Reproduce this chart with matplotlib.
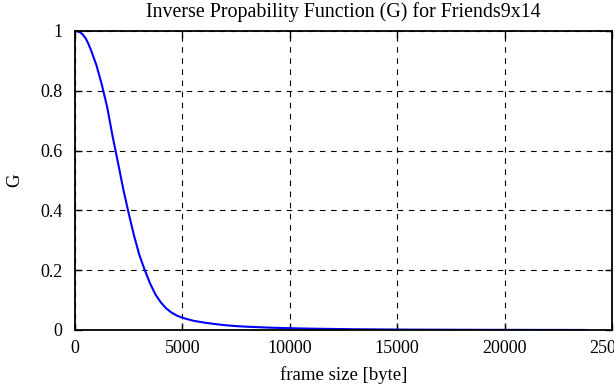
import matplotlib
matplotlib.use('Agg')
import matplotlib.pyplot as plt
from matplotlib.ticker import FormatStrFormatter

# frame size [byte] and G values
frame_size = [0, 125, 250, 375, 500, 625, 750, 1000, 1250, 1500, 1750, 2000, 2250,
              2500, 2750, 3000, 3250, 3500, 3750, 4000, 4250, 4500, 4750,
              5000, 5500, 6000, 6500, 7000, 7500, 8000, 9000, 10000, 11000,
              12000, 13000, 14000, 15000, 16000, 17000, 18000, 19000, 20000,
              21000, 22000, 23000, 23800]
G = [1.000, 0.999, 0.995, 0.987, 0.975, 0.957, 0.935, 0.885, 0.820, 0.745, 0.648,
     0.560, 0.470, 0.390, 0.315, 0.250, 0.200, 0.155, 0.118, 0.092, 0.072, 0.058,
     0.048, 0.041, 0.031, 0.025, 0.020, 0.016, 0.013, 0.011, 0.008, 0.006, 0.0045,
     0.0035, 0.0025, 0.002, 0.0015, 0.0012, 0.001, 0.0008, 0.0006, 0.0005,
     0.0004, 0.0003, 0.0002, 0.0]

x_ticks = [0, 5000, 10000, 15000, 20000, 25000]
y_ticks = [0, 0.2, 0.4, 0.6, 0.8, 1]

plt.rcParams['font.family'] = ['Liberation Serif', 'DejaVu Serif']
plt.rcParams['font.size'] = 12

fig = plt.figure(figsize=(6.14, 3.85), dpi=100)
ax = fig.add_axes([75 / 614, 55 / 385, 537 / 614, 299 / 385])

ax.plot(frame_size, G, color='#0000ff', linewidth=1.5)

ax.set_xlim(0, 25000)
ax.set_ylim(0, 1)
ax.set_xticks(x_ticks)
ax.set_yticks(y_ticks)
ax.yaxis.set_major_formatter(FormatStrFormatter('%g'))
ax.tick_params(direction='in', top=True, right=True, length=5, width=1, labelsize=13)
ax.tick_params(axis='x', pad=7)
ax.tick_params(axis='y', pad=9)
ax.grid(True, color='black', linestyle=(0, (5, 5)), linewidth=0.8)
for s in ax.spines.values():
    s.set_linewidth(1.3)

ax.set_title('Inverse Propability Function (G) for Friends9x14', pad=10)
ax.set_xlabel('frame size [byte]', fontsize=13.5, labelpad=7)
ax.set_ylabel('G', fontsize=13.5, labelpad=12)

fig.savefig('out.png', dpi=100)
